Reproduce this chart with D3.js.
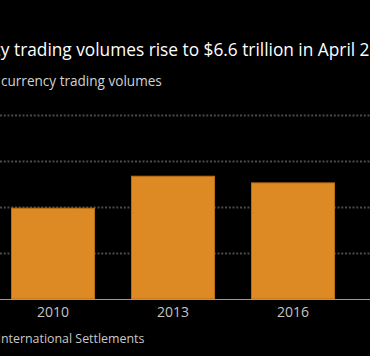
<!DOCTYPE html>
<html>
<head>
<meta charset="utf-8">
<script src="https://cdn.jsdelivr.net/npm/d3@7"></script>
<style>
  html, body { margin: 0; padding: 0; background: #000; overflow: hidden; }
  svg { display: block; }
  text { font-family: "Open Sans", "Noto Sans", sans-serif; }
</style>
</head>
<body>
<svg id="chart" width="370" height="356"></svg>
<script>
// ---- data ----
const years = ["2010", "2013", "2016", "2019"];
const volumes = [3.97, 5.36, 5.07, 6.6];   // $ trillion per day
const yTicks = [0, 2, 4, 6, 8];
const titleText = "Currency trading volumes rise to $6.6 trillion in April 2019";
const subtitleText = "Average daily currency trading volumes";
const sourceText = "Source: Bank for International Settlements";

const svg = d3.select("#chart");
svg.append("rect").attr("width", 370).attr("height", 356).attr("fill", "#000");

const y = d3.scaleLinear().domain([0, 8]).range([299, 115]);
const x = d3.scaleBand().domain(years).range([-7, 473]).paddingInner(0.3).paddingOuter(0.15);

// grid
const grid = svg.append("g");
grid.selectAll("line").data(yTicks.filter(d => d > 0)).join("line")
  .attr("x1", 0).attr("x2", 370)
  .attr("y1", d => Math.round(y(d)) + 0.5).attr("y2", d => Math.round(y(d)) + 0.5)
  .attr("stroke", "#4a4a4a").attr("stroke-width", 2)
  .attr("stroke-dasharray", "2,1.75");

// bars
svg.append("g").selectAll("rect").data(years).join("rect")
  .attr("x", d => x(d) + 0.5)
  .attr("y", (d, i) => y(volumes[i]) + 0.5)
  .attr("width", x.bandwidth() - 1)
  .attr("height", (d, i) => y(0) - y(volumes[i]) - 0.5)
  .attr("fill", "#dd8a24")
  .attr("stroke", "#b86e12").attr("stroke-width", 1);

// baseline
svg.append("line").attr("x1", 0).attr("x2", 370)
  .attr("y1", y(0) + 0.5).attr("y2", y(0) + 0.5)
  .attr("stroke", "#9a9a9a").attr("stroke-width", 1.2);

// x axis labels
const xAxis = d3.axisBottom(x).tickSize(0).tickPadding(0);
const gx = svg.append("g").attr("transform", `translate(0,${y(0) + 5})`).call(xAxis);
gx.select(".domain").remove();
gx.selectAll("text").attr("fill", "#c4c4c4").attr("font-size", 14)
  .attr("dy", "0.95em").style("font-family", '"Open Sans", sans-serif');

// helper: place text so the start of startSub is at x1 and the end of endSub is at x2
function fitText(str, startSub, x1, endSub, x2, baseline, color, baseSize) {
  const t = svg.append("text").attr("y", baseline).attr("fill", color)
    .attr("font-size", baseSize).attr("x", 0).text(str);
  const node = t.node();
  const i1 = str.indexOf(startSub);
  const i2 = str.indexOf(endSub) + endSub.length;
  const pre1 = i1 > 0 ? node.getSubStringLength(0, i1) : 0;
  const pre2 = node.getSubStringLength(0, i2);
  const size = baseSize * (x2 - x1) / (pre2 - pre1);
  t.attr("font-size", size);
  const p1 = i1 > 0 ? node.getSubStringLength(0, i1) : 0;
  t.attr("x", x1 - p1);
  return t;
}

fitText(titleText, "trading", 14, "in ", 318, 56, "#ffffff", 17);
fitText(subtitleText, "currency", 1, "volumes", 162, 86, "#d2d2d2", 14);
fitText(sourceText, "nternational", 1, "Settlements", 144.5, 343, "#c8c8c8", 13.5);
</script>
</body>
</html>
